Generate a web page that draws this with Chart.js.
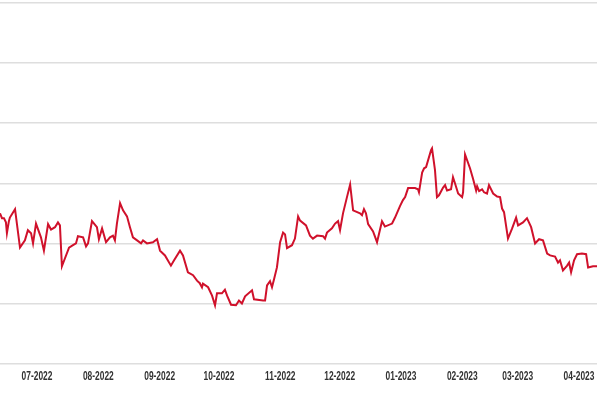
<!DOCTYPE html>
<html>
<head>
<meta charset="utf-8">
<script src="https://cdn.jsdelivr.net/npm/chart.js@4/dist/chart.umd.min.js"></script>
<style>
  html, body { margin: 0; padding: 0; background: #fff; }
  #wrap { width: 597px; height: 398px; }
</style>
</head>
<body>
<div id="wrap"><canvas id="priceChart"></canvas></div>
<script>
// days since 2022-06-01
const days = [
  11.3, 12.3, 13.3, 14.3, 14.8, 15.8, 16.3, 18.9, 21.4, 23.9,
  25.4, 27.0, 28.0, 29.5, 32.0, 33.5, 35.6, 37.1, 39.1, 40.6,
  41.6, 42.6, 46.2, 48.2, 49.7, 50.7, 53.3, 54.8, 55.8, 57.8,
  60.3, 61.3, 62.9, 64.9, 66.9, 68.4, 69.4, 70.4, 72.0, 73.5,
  75.5, 77.0, 78.5, 80.6, 82.6, 83.6, 85.6, 88.6, 90.7, 92.2,
  94.7, 97.7, 99.3, 102.3, 103.8, 106.3, 108.9, 110.9, 111.9, 112.4,
  113.4, 113.9, 116.5, 118.5, 120.0, 121.0, 123.5, 125.0, 126.1, 128.1,
  130.6, 132.1, 133.6, 135.2, 138.7, 139.7, 144.3, 145.3, 146.3, 147.8,
  148.8, 149.8, 151.3, 152.9, 154.4, 155.4, 156.4, 158.9, 160.4, 162.0,
  163.0, 166.0, 168.0, 169.5, 171.6, 174.6, 175.6, 176.6, 179.1, 180.7,
  182.2, 183.2, 184.7, 186.7, 188.3, 189.8, 193.3, 194.3, 195.3, 196.3,
  197.4, 199.9, 201.9, 204.4, 205.9, 209.5, 211.0, 213.5, 215.0, 216.1,
  217.6, 221.1, 222.6, 223.1, 224.7, 225.7, 226.7, 229.2, 229.7, 231.2,
  232.2, 233.2, 235.3, 236.3, 237.3, 239.3, 240.3, 241.3, 242.9, 244.9,
  245.4, 246.4, 248.9, 250.4, 252.0, 252.5, 253.5, 255.0, 256.0, 257.5,
  258.5, 260.6, 262.6, 264.1, 265.1, 266.1, 268.1, 270.2, 272.2, 273.2,
  275.7, 277.7, 279.8, 281.8, 283.8, 285.8, 287.9, 289.4, 291.9, 293.4,
  294.4, 295.9, 298.0, 299.0, 300.0, 301.5, 303.0, 305.5, 307.6, 308.6,
  311.1, 313.1
];
const prices = [
  25.0, 24.2, 24.2, 23.5, 21.7, 23.7, 24.3, 25.7, 19.3, 20.5,
  22.2, 21.7, 20.0, 23.3, 21.0, 18.8, 23.2, 22.3, 22.7, 23.5,
  23.0, 16.2, 19.3, 19.7, 20.0, 21.2, 21.0, 19.5, 20.0, 23.7,
  22.7, 20.7, 22.5, 20.2, 21.0, 21.3, 20.5, 23.3, 26.7, 25.5,
  24.5, 22.7, 21.0, 20.5, 20.0, 20.5, 20.0, 20.2, 20.7, 18.8,
  18.0, 16.3, 17.2, 18.8, 18.0, 15.2, 14.7, 13.8, 13.5, 13.3,
  12.7, 13.3, 12.7, 11.3, 9.7, 11.7, 11.7, 12.3, 11.3, 9.8,
  9.7, 10.5, 10.0, 11.2, 12.2, 10.7, 10.5, 10.5, 13.0, 13.7,
  12.7, 14.0, 16.0, 20.2, 21.8, 21.5, 19.2, 19.7, 20.8, 24.5,
  23.8, 23.0, 21.3, 20.8, 21.3, 21.2, 20.8, 21.8, 22.5, 23.3,
  23.7, 22.2, 25.0, 27.7, 29.8, 25.5, 25.0, 24.7, 25.7, 25.0,
  23.2, 22.0, 20.2, 23.7, 22.8, 23.3, 24.3, 26.2, 27.2, 27.7,
  29.2, 29.2, 29.0, 28.5, 31.8, 32.5, 32.7, 35.5, 35.8, 32.2,
  27.7, 28.0, 29.3, 29.7, 28.8, 29.0, 31.0, 30.0, 28.3, 27.7,
  28.5, 34.8, 32.5, 30.8, 28.8, 29.5, 28.7, 29.0, 28.5, 28.3,
  29.7, 28.3, 27.8, 27.7, 25.8, 25.2, 20.8, 22.5, 24.3, 23.0,
  23.5, 24.2, 22.7, 20.0, 20.7, 20.5, 18.3, 18.0, 17.8, 16.8,
  17.2, 15.5, 16.3, 16.8, 15.2, 17.2, 18.2, 18.3, 18.2, 16.0,
  16.2, 16.2
];
const monthStarts = [30, 61, 92, 122, 153, 183, 214, 245, 273, 304];
const monthLabels = ['07-2022', '08-2022', '09-2022', '10-2022', '11-2022',
                     '12-2022', '01-2023', '02-2023', '03-2023', '04-2023'];

const points = days.map((d, i) => ({ x: d, y: prices[i] }));

// the original uses a narrow font, squeeze the tick labels horizontally
const narrowLabels = {
    id: 'narrowLabels',
    beforeDraw(chart) {
        const scale = chart.scales.x;
        if (scale._narrowed) return;
        scale._narrowed = true;
        const orig = scale.drawLabels;
        scale.drawLabels = function (area) {
            const c = this.ctx;
            const fill = c.fillText;
            c.fillText = function (text, x, y) {
                c.save();
                c.translate(x, y);
                c.scale(0.7, 1);
                fill.call(c, text, 0, 0);
                c.restore();
            };
            orig.call(this, area);
            delete c.fillText;
        };
    }
};

let ctx = document.getElementById('priceChart').getContext('2d');
let priceChart = new Chart(ctx, {
    type: 'line',
    data: {
        datasets: [
            {
                data: points,
                borderColor: '#d0112b',
                borderWidth: 2,
                pointRadius: 0,
                tension: 0,
                fill: false
            }
        ]
    },
    options: {
        responsive: true,
        maintainAspectRatio: false,
        animation: false,
        layout: { padding: { top: 3, left: 0, right: 0, bottom: 8 } },
        plugins: {
            legend: { display: false },
            tooltip: { enabled: false }
        },
        scales: {
            x: {
                type: 'linear',
                min: 11.3,
                max: 313.1,
                grid: { display: false, drawTicks: false },
                border: { display: false },
                afterBuildTicks: function (scale) {
                    scale.ticks = monthStarts.map(v => ({ value: v }));
                },
                afterFit: function (scale) {
                    scale.paddingLeft = 0;
                    scale.paddingRight = 0;
                },
                ticks: {
                    autoSkip: false,
                    maxRotation: 0,
                    padding: 6,
                    color: '#333',
                    font: { family: "'Liberation Sans', Arial, sans-serif", size: 12, weight: 'bold' },
                    callback: function (value, index) { return monthLabels[index]; }
                }
            },
            y: {
                min: 0,
                max: 60,
                grid: { color: '#dedede', lineWidth: 1.5, drawTicks: false },
                border: { display: false },
                ticks: { display: false, stepSize: 10 }
            }
        }
    },
    plugins: [narrowLabels]
});
</script>
</body>
</html>
